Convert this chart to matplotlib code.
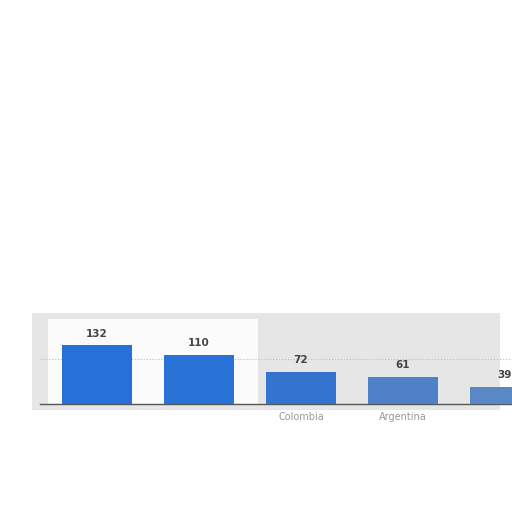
import numpy as np
import matplotlib.pyplot as plt
from matplotlib.patches import Rectangle

# data (first two and last labels not visible)
countries = ["", "", "Colombia", "Argentina", ""]
values = [132, 110, 72, 61, 39]
bar_colors = ["#2670d8", "#2872d8", "#3474d0", "#4f80c8", "#5a88c6"]

fig = plt.figure(figsize=(5.12, 5.12), dpi=100)

# blurred grey panel behind the chart
fig.patches.append(Rectangle((32 / 512, 1 - 410 / 512), 468 / 512, 97 / 512,
                             transform=fig.transFigure, facecolor="#e6e6e6",
                             edgecolor="none", zorder=-2))
fig.patches.append(Rectangle((48 / 512, 1 - 404 / 512), 210 / 512, 85 / 512,
                             transform=fig.transFigure, facecolor="#fbfbfb",
                             edgecolor="none", zorder=-1))

ax = fig.add_axes([40 / 512, 1 - 404 / 512, 472 / 512, 86 / 512])
ax.patch.set_alpha(0)

x = np.arange(len(values))
bars = ax.bar(x, values, width=0.686, color=bar_colors, zorder=3)
for b, v in zip(bars, values):
    ax.text(b.get_x() + b.get_width() / 2, v + 14, str(v), ha="center",
            va="bottom", fontsize=7.5, fontweight="bold", color="#444444")

ax.axhline(100, color="#bbbbbb", linestyle=":", linewidth=0.8, zorder=1)
ax.set_xlim(-0.559, 4.069)
ax.set_ylim(0, 192)
ax.set_xticks(x)
ax.set_xticklabels(countries, fontsize=7, color="#999999")
ax.tick_params(axis="x", length=0, pad=6)
ax.set_yticks([])
for s in ["top", "right", "left"]:
    ax.spines[s].set_visible(False)
ax.spines["bottom"].set_color("#555555")
ax.spines["bottom"].set_linewidth(1.0)

fig.savefig("out.png", dpi=100)
